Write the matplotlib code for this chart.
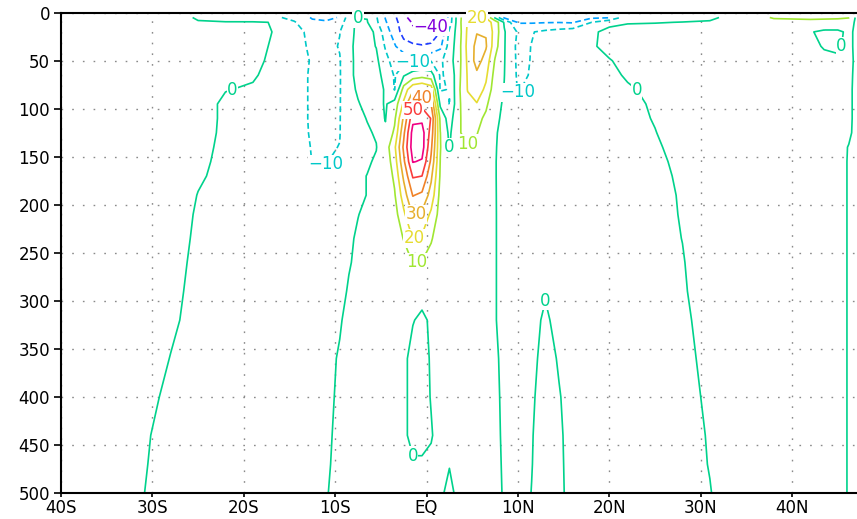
import numpy as np
import matplotlib
matplotlib.use("Agg")
import matplotlib.pyplot as plt

# zonal current section (cm/s), latitude vs depth
# latitude columns, split in three blocks (negative = south)
lat_west = [-40, -32, -28, -25, -22, -19, -16.5, -14.5, -12.5, -11, -9.5]
lat_mid = [-8.5, -7.5, -6.5, -5.5, -4.5, -3.5, -2.5, -1.5, -0.5,
           0.5, 1.5, 2.5, 3.5, 4.5, 5.5, 6.5, 7.5, 8.5]
lat_east = [10, 11.5, 13, 14.5, 16, 18, 20, 22, 25, 28, 31, 34, 38,
            42, 43.5, 45, 46.2, 47.5]

depth = [5, 10, 20, 35, 50, 65, 80, 95, 110, 125, 140, 155, 170, 190,
         210, 235, 260, 290, 320, 360, 400, 440, 470, 500]

# one row per depth level
u_west = [
    [3, 3, 2, -0.5, -3, -5, -8.5, -13, -21, -22, -19.5],
    [3, 3, 2, 0.3, 0.4, 0.6, -0.3, -9, -18, -19, -14],
    [3, 3, 2.5, 2, 1.5, 1, -0.2, -7, -12.5, -13, -10.2],
    [3, 3, 2.5, 2, 1.5, 0.8, -0.4, -6, -12, -12.5, -9.5],
    [3, 3, 2.5, 2, 1.2, 0.5, -0.5, -5, -11, -12, -10.5],
    [3, 3, 2.5, 2, 0.8, 0.3, -1, -5.5, -11.5, -12, -10.6],
    [3, 3, 2.5, 1.8, 0.1, -0.3, -1.2, -5.5, -11.5, -12, -10.6],
    [3, 3, 2.5, 1.2, -0.5, -0.8, -1.5, -5.5, -11.5, -12, -10.6],
    [3, 3, 2.5, 1.2, -0.5, -1, -1.5, -5.5, -11.5, -12, -10.5],
    [3, 3, 2.5, 1, -0.5, -1, -1.5, -5.5, -11.2, -11.8, -10.4],
    [3, 3, 2.5, 0.8, -0.6, -1, -1.5, -5, -10.6, -11, -9.8],
    [3, 3, 2.5, 0.6, -0.7, -1, -1.5, -4.5, -10.2, -10.4, -8],
    [3, 3, 2.5, 0.4, -0.9, -1, -1.5, -4, -8, -8, -6],
    [3, 3, 2, -0.1, -1, -1, -1.5, -3, -5, -5, -4],
    [3, 3, 1.8, -0.4, -1, -1, -1.2, -2.5, -4, -4, -3],
    [3, 2.5, 1.5, -0.6, -1, -1, -1.2, -2, -3, -3, -2.5],
    [3, 2.5, 1.2, -0.8, -1, -1, -1, -1.5, -2.5, -2.5, -2],
    [3, 2.5, 0.9, -1, -1, -1, -1, -1.5, -2, -2, -1.2],
    [3, 2.5, 0.6, -1.2, -1, -1, -1, -1.5, -2, -2, -0.5],
    [3, 2.5, -0.1, -1.2, -1, -1, -1, -1.5, -2, -1.5, 0.5],
    [3, 2, -0.9, -1.2, -1, -1, -1, -1.5, -2, -1.2, 0.8],
    [3, 1.5, -1.8, -1.2, -1, -1, -1, -1.5, -2, -0.8, 1],
    [3, 1.2, -2, -1.2, -1, -1, -1, -1.5, -2, -0.6, 1.2],
    [3, 1, -2.5, -1.2, -1, -1, -1, -1.5, -2, -0.3, 1.5],
]

u_mid = [
    [-5, -0.5, -0.3, -9, -20.5, -28, -38, -43, -46, -45, -41, -16, 6, 19.5, 19.7, 19.5, -2, -22],
    [-5, 3, 0.5, -8, -19, -27, -35, -41, -44, -43, -42, -15, 6, 21, 24, 25, 16, -1],
    [-4, 3, 2, -1, -16, -24, -34, -38, -39, -37, -30, -8, 5, 22, 29.5, 29.3, 16, 0.8],
    [-2.5, 3, 2.5, -0.3, -11, -19, -26, -28, -29, -28, -22, -6, 6, 23, 33, 31, 14, 0.7],
    [-3, 3, 2.5, 2, -7, -14, -13, -11, -10.2, -10.5, -12, -4, 6, 22, 34, 26, 9, 0.5],
    [-3, 3, 2.5, 2, -2, -11, -1, 4, 6, 4, -11, -8, 7, 21, 28, 22, 6, 0.2],
    [-2.5, 1, 2, 2, -0.5, -10.5, 14, 28, 31, 26, -11, -9.5, 8, 20.5, 25, 18, 4, -0.3],
    [-2, -0.5, 2, 3, -0.8, 4, 22, 45, 47, 40, -2, -10.3, 8, 17, 19.5, 12, 2, -0.8],
    [-1.8, -1.2, 0.2, 3, -0.3, 8, 32, 57, 58, 49.5, 8, -5, 9, 13, 13, 8, 1, -1],
    [-1.8, -1.2, -0.6, 0.5, 1, 12, 38, 64, 64, 46, 10.2, -2, 9.5, 11.5, 10.5, 5, 0.5, -1.5],
    [-1.7, -1.2, -0.7, -0.2, 5, 18, 42, 65, 64.4, 42, 10.5, -0.5, 8, 9.5, 8, 4, 0.3, -1.5],
    [-1.6, -1.2, -0.6, 0.6, 4, 15, 38, 60.5, 59, 38, 9.8, 2, 6, 7, 6, 3, 0.2, -1.5],
    [-1.5, -0.8, 0.1, 1, 3, 12, 32, 51, 50, 32, 9, 3, 5, 5.5, 4.5, 2.5, 0.2, -1.5],
    [-1.4, -0.8, 0.1, 1, 2, 9, 25, 40.5, 38, 26, 7, 3, 4, 4.5, 3.5, 2, 0.2, -1.3],
    [-1.2, -0.1, 0.8, 1, 1.5, 6, 18, 31, 28, 18, 6, 2.5, 3, 3.5, 3, 1.5, 0.2, -1.2],
    [-0.6, 0.5, 1, 1, 1.2, 4, 10.5, 20.3, 18.5, 11, 4, 2, 2.5, 3, 2.5, 1.2, 0.2, -1.2],
    [-0.3, 0.8, 1, 1, 1, 2.5, 5, 10.3, 9.5, 6, 3, 1.5, 2, 2.5, 2, 1, 0.2, -1.2],
    [0.4, 1, 1, 1, 1, 1.5, 2, 2, 1.5, 2, 2, 1.5, 1.5, 2, 1.5, 1, 0.2, -1.2],
    [1.5, 1.5, 1.2, 1, 1, 1.2, 1.2, 0.2, -0.8, 0.6, 1.5, 1.2, 1.2, 1.5, 1.2, 0.8, 0.2, -1.2],
    [1.5, 1.5, 1.2, 1, 1, 1, 0.8, -1.2, -1.5, 0.4, 1.5, 1.2, 1.2, 1.5, 1.2, 1, 0.5, -0.8],
    [1.5, 1.5, 1.2, 1, 1, 1, 0.8, -1.2, -1.5, 0.2, 1.5, 1.2, 1.2, 1.5, 1.2, 1, 0.6, -0.6],
    [1.5, 1.5, 1.2, 1, 1, 1, 0.8, -1.2, -1.2, -0.3, 1.5, 1.2, 1.2, 1.5, 1.2, 1, 0.7, -0.5],
    [1.5, 1.5, 1.2, 1, 1, 1, 0.8, 0.5, 0.5, 0.8, 1.2, 0.2, 1.2, 1.5, 1.2, 1, 0.8, -0.4],
    [1.5, 1.5, 1.2, 1, 1, 1, 0.8, 0.8, 0.8, 1, 0.8, -1.2, 1.2, 1.5, 1.2, 1, 0.9, -0.3],
]

u_east = [
    [-24, -24, -24, -23, -23, -22, -21, -3, -2, -1.5, -1, 2, 11, 12, 12, 11.5, 10.5, -9],
    [-21, -21, -20.5, -20.3, -21, -10.2, -1.5, -0.3, -0.2, 0.1, 0.5, 1.5, 6.5, 7, 6, 6, 5, -6],
    [-11, -10.5, -8, -6, -4, -1, 1.5, 1.5, 2, 2, 2, 2, 2, 0.5, -1.5, -1.5, 1.5, -3],
    [-12.5, -9.8, -6, -4.5, -3, -0.7, 1.5, 1.5, 2, 2, 2, 2, 2, 1, -0.3, -0.8, 1.5, -3],
    [-12, -9.7, -6, -4, -2.5, -1.5, -0.3, 1.5, 2, 2, 2, 2, 2, 1.5, 1, 0.8, 1.5, -2.5],
    [-11.5, -9.5, -5.5, -4, -2.5, -1.5, -1, 0.5, 2, 2, 2, 2, 2, 1.5, 1.5, 1.5, 1.2, -2.5],
    [-10.5, -8, -5, -3.5, -2.5, -1.5, -1, -0.5, 1, 2, 2, 2, 2, 1.5, 1.5, 1.5, 1, -2.5],
    [-8, -6, -4.5, -3.5, -2.5, -1.5, -1, -1, 0.5, 2, 2, 2, 2, 1.5, 1.5, 1.5, 1, -2.5],
    [-6, -5, -4, -3, -2.5, -1.5, -1, -1, 0.2, 1.8, 2, 2, 2, 1.5, 1.5, 1.5, 1, -2.5],
    [-5, -4, -3.5, -3, -2.5, -1.5, -1, -1, -0.1, 1.5, 2, 2, 2, 1.5, 1.5, 1.5, 0.8, -2.5],
    [-4.5, -3.5, -3, -2.5, -2, -1.5, -1, -1, -0.5, 1.3, 2, 2, 2, 1.5, 1.5, 1.5, -0.2, -2.5],
    [-4, -3, -2.5, -2.5, -2, -1.5, -1, -1, -0.9, 1, 2, 2, 2, 1.5, 1.5, 1.5, -0.3, -2.5],
    [-3.5, -3, -2.5, -2, -2, -1.5, -1, -1, -1, 0.6, 2, 2, 2, 1.5, 1.5, 1.5, -0.3, -2.5],
    [-3, -2.5, -2, -2, -2, -1.5, -1, -1, -1, 0.3, 2, 2, 2, 1.5, 1.5, 1.5, -0.3, -2.5],
    [-2.5, -2, -2, -2, -2, -1.5, -1, -1, -1, 0.2, 2, 2, 2, 1.5, 1.5, 1.5, -0.3, -2.5],
    [-2.5, -2, -2, -2, -2, -1.5, -1, -1, -1.2, 0.05, 2, 2, 2, 1.5, 1.5, 1.5, -0.3, -2.5],
    [-2.5, -2, -2, -2, -2, -1.5, -1, -1, -1.2, -0.2, 2, 2, 2, 1.5, 1.5, 1.5, -0.3, -2.5],
    [-2.5, -2, -0.5, -1.5, -2, -1.5, -1, -1, -1.2, -0.4, 1.8, 2, 2, 1.5, 1.5, 1.5, -0.3, -2.5],
    [-2.5, -2, 1, -2, -2, -1.5, -1, -1, -1.2, -0.6, 1.2, 2, 2, 1.5, 1.5, 1.5, -0.3, -2.5],
    [-2.5, -1.5, 2, -0.5, -2, -1.5, -1, -1, -1.2, -0.8, 0.8, 2, 2, 1.5, 1.5, 1.5, -0.3, -2.5],
    [-2.5, -0.8, 2.5, 0.3, -2, -1.5, -1, -1, -1.2, -1, 0.5, 2, 2, 1.5, 1.5, 1.5, -0.3, -2.5],
    [-2.5, -0.3, 2.5, 0.8, -2, -1.5, -1, -1, -1.2, -1, 0.2, 2, 2, 1.5, 1.5, 1.5, -0.3, -2.5],
    [-2.2, -0.15, 2.5, 1, -2, -1.5, -1, -1, -1.2, -1, 0.1, 2, 2, 1.5, 1.5, 1.5, -0.3, -2.5],
    [-2, 0.1, 2.5, 1.2, -2, -1.5, -1, -1, -1.2, -1, -0.1, 1.5, 2, 1.5, 1.5, 1.5, -0.3, -2.5],
]

levels = [-40, -30, -20, -10, 0, 10, 20, 30, 40, 50, 60]
level_colors = ['#8200dc', '#1e3cff', '#00a0ff', '#00c8c8', '#00d28c', '#a0e632',
                '#e6dc32', '#e6af2d', '#f08228', '#fa3c3c', '#f00082']

xtick_pos = [-40, -30, -20, -10, 0, 10, 20, 30, 40]
xtick_labels = ['40S', '30S', '20S', '10S', 'EQ', '10N', '20N', '30N', '40N']
ytick_pos = [0, 50, 100, 150, 200, 250, 300, 350, 400, 450, 500]

# where each contour value gets its label (lat, depth); the label is
# snapped onto the nearest point of that contour
label_spots = {
    0: [(-7.3, 5), (-21.7, 74), (22.7, 78), (45.5, 28), (2.3, 141),
        (-1.4, 462), (13.1, 302)],
    -10: [(-11.3, 157), (-1.2, 50), (10.4, 84)],
    -40: [(0.3, 15)],
    10: [(4.7, 133), (-0.9, 261)],
    20: [(5.5, 6), (-0.9, 235)],
    30: [(-0.9, 210)],
    40: [(-0.9, 87)],
    50: [(-1.0, 101)],
}

plt.rcParams['lines.dashed_pattern'] = [3.5, 2.0]

lat = np.array(lat_west + lat_mid + lat_east)
u = np.hstack([np.array(u_west), np.array(u_mid), np.array(u_east)])

fig = plt.figure(figsize=(8.57, 5.19), dpi=100)
ax = fig.add_axes([61 / 857, 26 / 519, 1 - 61 / 857, 480.3 / 519])

styles = ['dashed' if v < 0 else 'solid' for v in levels]
cs = ax.contour(lat, depth, u, levels=levels, colors=level_colors,
                linewidths=1.2, linestyles=styles)

ax.set_xlim(-40, 47.1)
ax.set_ylim(500, 0)


def fmt(v):
    return '{:.0f}'.format(v).replace('-', '\u2212')


# contour labels, GrADS style: upright text blanking the line beneath it
paths = cs.get_paths()
for lev, spots in label_spots.items():
    i = levels.index(lev)
    pts = paths[i].vertices
    if len(pts) == 0:
        continue
    disp = ax.transData.transform(pts)
    for sx, sy in spots:
        p = ax.transData.transform((sx, sy))
        k = np.argmin(((disp - p) ** 2).sum(axis=1))
        ax.text(pts[k, 0], pts[k, 1], fmt(lev), color=level_colors[i],
                fontsize=12, ha='center', va='center', zorder=5,
                bbox=dict(facecolor='white', edgecolor='none', pad=0.3))

ax.set_xticks(xtick_pos)
ax.set_xticklabels(xtick_labels)
ax.set_yticks(ytick_pos)
ax.grid(True, color='#8a8a8a', linestyle=(0, (1.2, 6.5)), linewidth=1.0)
ax.tick_params(direction='out', width=1.2, labelsize=12)
ax.tick_params(axis='x', length=3, pad=1.2)
ax.tick_params(axis='y', length=5, pad=3)
for side in ['left', 'top', 'bottom']:
    ax.spines[side].set_linewidth(1.5)
ax.spines['right'].set_visible(False)

fig.savefig('out.png', dpi=100)
